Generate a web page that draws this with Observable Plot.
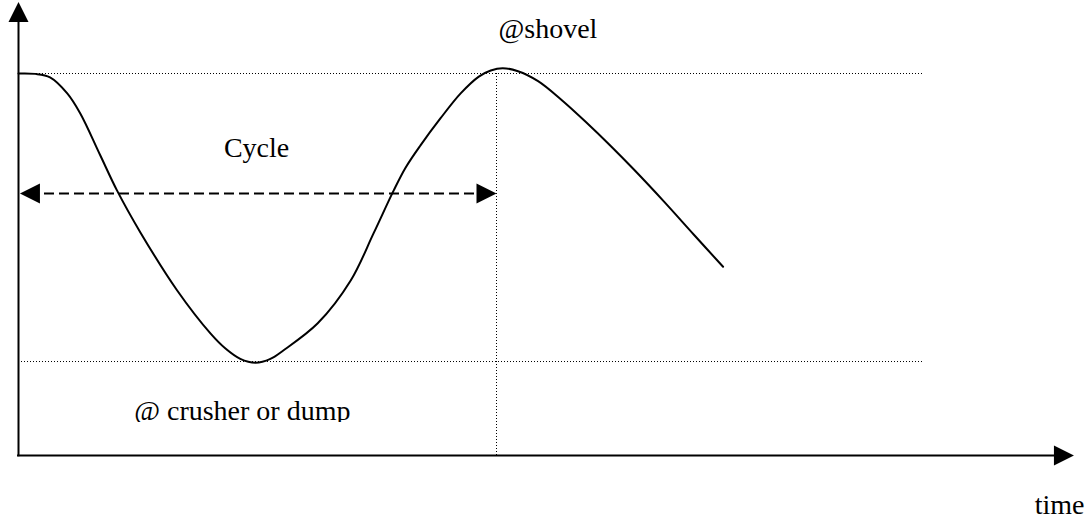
<!DOCTYPE html>
<html>
<head>
<meta charset="utf-8">
<script src="https://cdn.jsdelivr.net/npm/d3@7"></script>
<script src="https://cdn.jsdelivr.net/npm/@observablehq/plot@0.6"></script>
<style>
  html, body { margin: 0; padding: 0; background: #fff; overflow: hidden; }
</style>
</head>
<body>
<div id="chart"></div>
<script>
// Time in cycles, level 0 = ground line, 1 = shovel level
const curveT = [0, 0.035, 0.066, 0.102, 0.129, 0.171, 0.206, 0.255, 0.332, 0.402,
  0.433, 0.464, 0.496, 0.527, 0.554, 0.626, 0.695, 0.743, 0.785, 0.810,
  0.841, 0.883, 0.925, 0.963, 0.988, 1.013, 1.045, 1.087, 1.135, 1.187,
  1.240, 1.288, 1.351, 1.413, 1.474];
const curveLevel = [1.0, 0.999, 0.990, 0.948, 0.896, 0.786, 0.694, 0.584, 0.432, 0.319,
  0.280, 0.253, 0.243, 0.253, 0.275, 0.346, 0.458, 0.582, 0.694, 0.754,
  0.812, 0.883, 0.948, 0.992, 1.008, 1.014, 1.006, 0.980, 0.932, 0.873,
  0.809, 0.748, 0.664, 0.578, 0.494];

const shovelLevel = 1.0;
const crusherLevel = 0.246;
const cycleStart = 0.003;
const cycleEnd = 1.0;
const cycleArrowLevel = 0.686;
const guideEnd = 1.893;
const xAxisEnd = 2.208;
const yAxisEnd = 1.187;

const labelText = ["Cycle", "@shovel", "@ crusher or dump", "time"];
const labelT = [0.498, 1.1075, 0.242, 2.178];
const labelLevel = [0.781, 1.0925, 0.0917, -0.152];
const labelAnchor = ["middle", "middle", "start", "middle"];

const curve = curveT.map((t, i) => ({t, v: curveLevel[i]}));
const labels = labelText.map((text, i) => ({text, t: labelT[i], v: labelLevel[i], anchor: labelAnchor[i]}));

// Filled triangular arrowhead whose tip sits at the anchor point (pointing up before rotation)
const arrowHead = {
  draw(ctx, size) {
    const s = Math.sqrt(size / Math.PI);
    ctx.moveTo(0, 0);
    ctx.lineTo(-s / 2, s);
    ctx.lineTo(s / 2, s);
    ctx.closePath();
  }
};

const heads = [
  {t: 0, v: yAxisEnd, rot: 0},
  {t: xAxisEnd, v: 0, rot: 90},
  {t: cycleStart, v: cycleArrowLevel, rot: -90},
  {t: cycleEnd, v: cycleArrowLevel, rot: 90}
];

const dotted = {stroke: "black", strokeWidth: 1, strokeDasharray: "1,2"};

const chart = Plot.plot({
  width: 1090,
  height: 523,
  margin: 0,
  x: {domain: [0, 1], range: [18, 496], axis: null},
  y: {domain: [0, 1], range: [455, 73], axis: null},
  style: {fontFamily: "'Liberation Serif', 'Times New Roman', serif", background: "white", color: "black"},
  marks: [
    // guide lines
    Plot.ruleY([shovelLevel, crusherLevel], {x1: 0, x2: guideEnd, ...dotted}),
    Plot.ruleX([cycleEnd], {y1: 0, y2: shovelLevel, ...dotted}),
    // axes
    Plot.ruleX([0], {y1: -0.003, y2: yAxisEnd - 0.05, stroke: "black", strokeWidth: 2}),
    Plot.ruleY([0], {x1: -0.002, x2: xAxisEnd - 0.04, stroke: "black", strokeWidth: 2}),
    // cycle dashed arrow
    Plot.ruleY([cycleArrowLevel], {x1: cycleStart + 0.02, x2: cycleEnd - 0.02, stroke: "black", strokeWidth: 2, strokeDasharray: "10,5"}),
    // the curve
    Plot.line(curve, {x: "t", y: "v", curve: "catmull-rom", stroke: "black", strokeWidth: 2}),
    // arrowheads
    Plot.dot(heads, {x: "t", y: "v", rotate: "rot", symbol: arrowHead, r: 20, fill: "black", stroke: "none"}),
    // labels
    Plot.text(labels, {x: "t", y: "v", text: "text", lineAnchor: "bottom", fontSize: 28, fill: "black"})
  ]
});

// text anchors per label (start for the bottom label)
const svgTexts = [...chart.querySelectorAll("text")];
svgTexts.forEach(el => {
  const lab = labels.find(l => l.text === el.textContent);
  if (lab) el.setAttribute("text-anchor", lab.anchor);
});

// clip the descenders of the bottom label, as in the original figure
const yScale = chart.scale("y");
const clipY = yScale.apply(labelLevel[2]) + 2;
const ns = "http://www.w3.org/2000/svg";
const defs = document.createElementNS(ns, "defs");
const cp = document.createElementNS(ns, "clipPath");
cp.setAttribute("id", "crusher-clip");
cp.setAttribute("clipPathUnits", "userSpaceOnUse");
const rect = document.createElementNS(ns, "rect");
rect.setAttribute("x", 0); rect.setAttribute("y", 0);
rect.setAttribute("width", 1090); rect.setAttribute("height", clipY);
cp.appendChild(rect); defs.appendChild(cp); chart.insertBefore(defs, chart.firstChild);
const crusherText = svgTexts.find(el => el.textContent === labelText[2]);
if (crusherText) {
  const grp = crusherText.parentNode;
  const wrap = document.createElementNS(ns, "g");
  wrap.setAttribute("clip-path", "url(#crusher-clip)");
  const inner = document.createElementNS(ns, "g");
  for (const a of ["transform", "font-size", "fill", "text-anchor", "font-family"]) {
    if (grp.getAttribute(a)) inner.setAttribute(a, grp.getAttribute(a));
  }
  inner.appendChild(crusherText);
  wrap.appendChild(inner);
  chart.appendChild(wrap);
}

document.getElementById("chart").appendChild(chart);
</script>
</body>
</html>
